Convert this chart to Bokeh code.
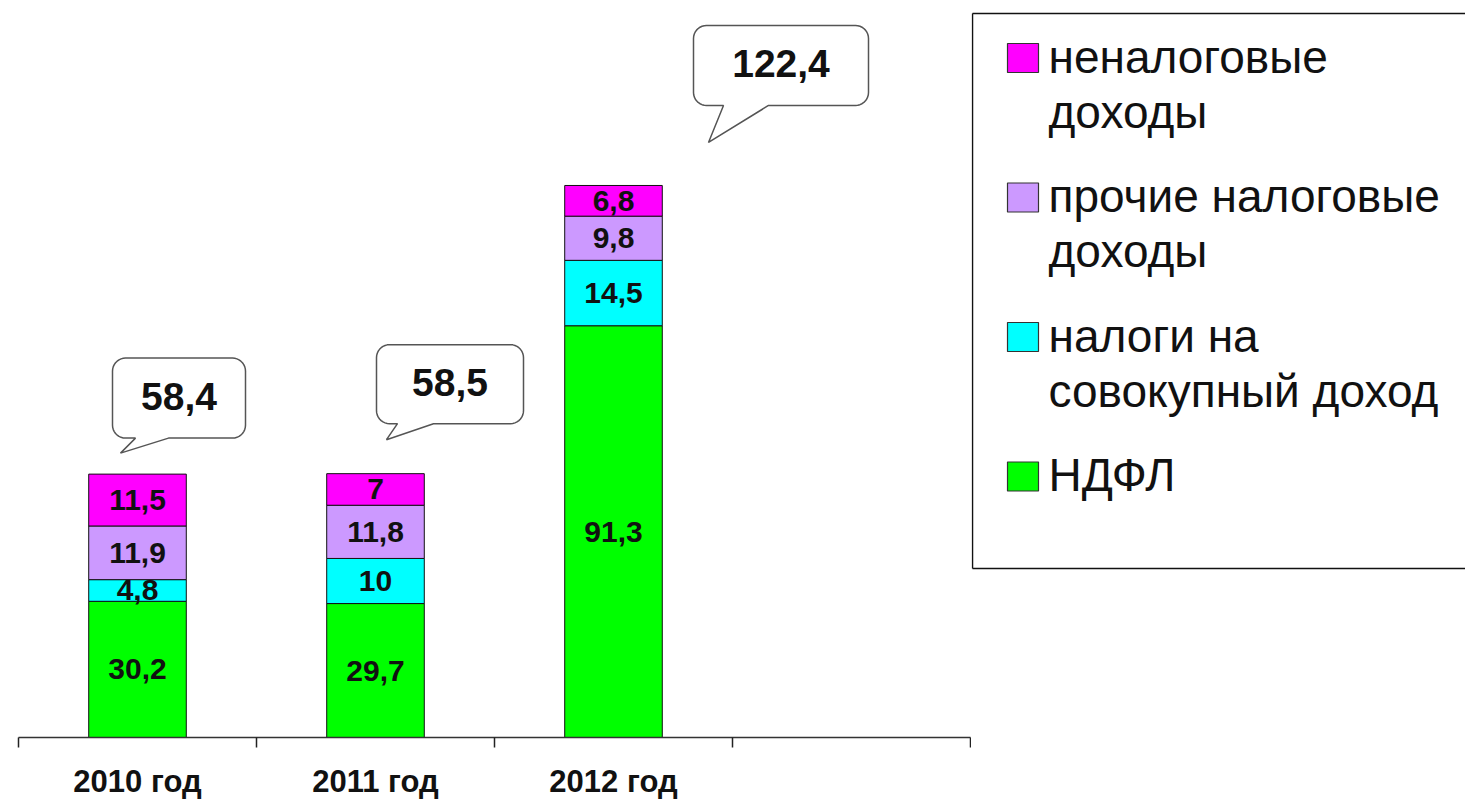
import numpy as np
from bokeh.plotting import figure
from bokeh.models import Range1d, FixedTicker, ColumnDataSource
from bokeh.layouts import row
from bokeh.core.properties import value
from bokeh.embed import file_html
from bokeh.resources import INLINE

# ---------------- data ----------------
years = ["2010 год", "2011 год", "2012 год"]
ndfl = [30.2, 29.7, 91.3]
sovokup = [4.8, 10.0, 14.5]
prochie = [11.9, 11.8, 9.8]
nenalog = [11.5, 7.0, 6.8]
totals = [58.4, 58.5, 122.4]

series_names = ["НДФЛ", "налоги на\nсовокупный доход",
                "прочие налоговые\nдоходы", "неналоговые\nдоходы"]
series_colors = ["#00FF00", "#00FFFF", "#CC99FF", "#FF00FF"]
series_values = [ndfl, sovokup, prochie, nenalog]

# ---------------- layout / style ----------------
FONT = value("Liberation Sans")
N_SLOTS = 4
TOTAL_W, H = 1465, 801
W_MAIN = 971
B_LEFT, B_RIGHT, B_BOTTOM = 18, 1, 64
FRAME_W = W_MAIN - B_LEFT - B_RIGHT
FRAME_H = H - B_BOTTOM
PX_Y = 4.51
Y_MAX = FRAME_H / PX_Y
PX_X = FRAME_W / N_SLOTS
BAR_W = 0.41

# callout geometry in pixels, relative to bar centre (x) and bar top (up)
BUBBLES = [
    dict(l=-25, r=108, t=116, b=36, bl=-2, br=31, tx=-17, ty=21),
    dict(l=1, r=148, t=129, b=50, bl=22, br=58, tx=11, ty=34),
    dict(l=80, r=255, t=160, b=80, bl=110, br=155, tx=95, ty=43),
]
RADIUS = 13


def fmt(v):
    return f"{v:g}".replace(".", ",")


# ---------------- main chart ----------------
p = figure(width=W_MAIN, height=H, x_range=Range1d(0, N_SLOTS), y_range=Range1d(0, Y_MAX),
           toolbar_location=None, output_backend="svg", y_axis_location=None,
           min_border_left=B_LEFT, min_border_right=B_RIGHT, min_border_top=0,
           min_border_bottom=B_BOTTOM, outline_line_color=None)
p.xgrid.visible = False
p.ygrid.visible = False

xs = [i + 0.5 for i in range(len(years))]
keys = [f"s{j}" for j in range(len(series_values))]
data = {"x": xs}
for k, vals in zip(keys, series_values):
    data[k] = vals
src = ColumnDataSource(data)
p.vbar_stack(keys, x="x", width=BAR_W, color=series_colors, line_color="#111111",
             line_width=1, source=src)

# segment labels
lx, ly, lt = [], [], []
bottoms = np.zeros(len(years))
for vals in series_values:
    v = np.array(vals)
    for i in range(len(years)):
        lx.append(xs[i])
        ly.append(bottoms[i] + v[i] / 2)
        lt.append(fmt(v[i]))
    bottoms += v
p.text(x=lx, y=ly, text=lt, text_align="center", text_baseline="middle",
       text_font=FONT, text_font_style="bold", text_font_size="30px", text_color="#111111")

# callouts
bx, by, tx, ty, tt = [], [], [], [], []
for i, b in enumerate(BUBBLES):
    L, R, T, B = b["l"], b["r"], b["t"], b["b"]
    r = RADIUS
    pts = [(b["br"], B), (R - r, B)]

    def arc(cx, cy, a0, a1):
        ang = np.radians(np.linspace(a0, a1, 10))
        return [(cx + r * np.cos(a), cy + r * np.sin(a)) for a in ang]

    pts += arc(R - r, B + r, -90, 0)
    pts += arc(R - r, T - r, 0, 90)
    pts += arc(L + r, T - r, 90, 180)
    pts += arc(L + r, B + r, 180, 270)
    pts += [(b["bl"], B), (b["tx"], b["ty"]), (b["br"], B)]
    bx.append([xs[i] + dx / PX_X for dx, _ in pts])
    by.append([totals[i] + up / PX_Y for _, up in pts])
    tx.append(xs[i] + (L + R) / 2 / PX_X)
    ty.append(totals[i] + ((T + B) / 2 + 2) / PX_Y)
    tt.append(fmt(totals[i]))
p.patches(bx, by, fill_color="white", line_color="#555555", line_width=1.5)
p.text(x=tx, y=ty, text=tt, text_align="center", text_baseline="middle",
       text_font=FONT, text_font_style="bold", text_font_size="39px", text_color="#111111")

# x axis: labels at centres, ticks at slot boundaries
ax = p.xaxis[0]
ax.ticker = FixedTicker(ticks=xs, minor_ticks=list(range(N_SLOTS + 1)))
ax.major_label_overrides = {xs[i]: years[i] for i in range(len(years))}
ax.major_tick_out = 0
ax.major_tick_in = 0
ax.minor_tick_out = 10
ax.minor_tick_in = 0
ax.minor_tick_line_color = "#222222"
ax.minor_tick_line_width = 1.5
ax.axis_line_color = "#333333"
ax.axis_line_width = 1.5
ax.major_label_text_font = "Liberation Sans"
ax.major_label_text_font_size = "31px"
ax.major_label_text_font_style = "bold"
ax.major_label_text_color = "#111111"
ax.major_label_standoff = 16

# ---------------- legend panel ----------------
W_LEG = TOTAL_W - W_MAIN
leg = figure(width=W_LEG, height=H, x_range=Range1d(0, W_LEG), y_range=Range1d(FRAME_H, 0),
             toolbar_location=None, output_backend="svg", x_axis_location=None,
             y_axis_location=None, min_border=0, outline_line_color=None)
leg.xgrid.visible = False
leg.ygrid.visible = False
BOX_L, BOX_T, BOX_B = 1, 13, 568
leg.segment(x0=[BOX_L, BOX_L, BOX_L], y0=[BOX_T, BOX_T, BOX_B],
            x1=[W_LEG + 50, BOX_L, W_LEG + 50], y1=[BOX_T, BOX_B, BOX_B],
            line_color="#111111", line_width=1.5)

LEG_FS = 46
order = list(range(len(series_names)))[::-1]
sq_l, sq_r, sq_t, sq_b, sq_c = [], [], [], [], []
gx, gy, gt = [], [], []
for k, idx in enumerate(order):
    c = 57.5 + 139.5 * k
    sq_l.append(36); sq_r.append(67); sq_t.append(c - 14.5); sq_b.append(c + 14.5)
    sq_c.append(series_colors[idx])
    for li, line in enumerate(series_names[idx].split("\n")):
        baseline = c + 14.5 + 55 * li
        gx.append(77)
        gy.append(baseline - 0.345 * LEG_FS)
        gt.append(line)
leg.quad(left=sq_l, right=sq_r, top=sq_t, bottom=sq_b, fill_color=sq_c,
         line_color="#333333", line_width=1.2)
leg.text(x=gx, y=gy, text=gt, text_align="left", text_baseline="middle",
         text_font=FONT, text_font_size=f"{LEG_FS}px", text_color="#111111")

layout = row(p, leg)
open("out.html", "w").write(file_html(layout, INLINE))
